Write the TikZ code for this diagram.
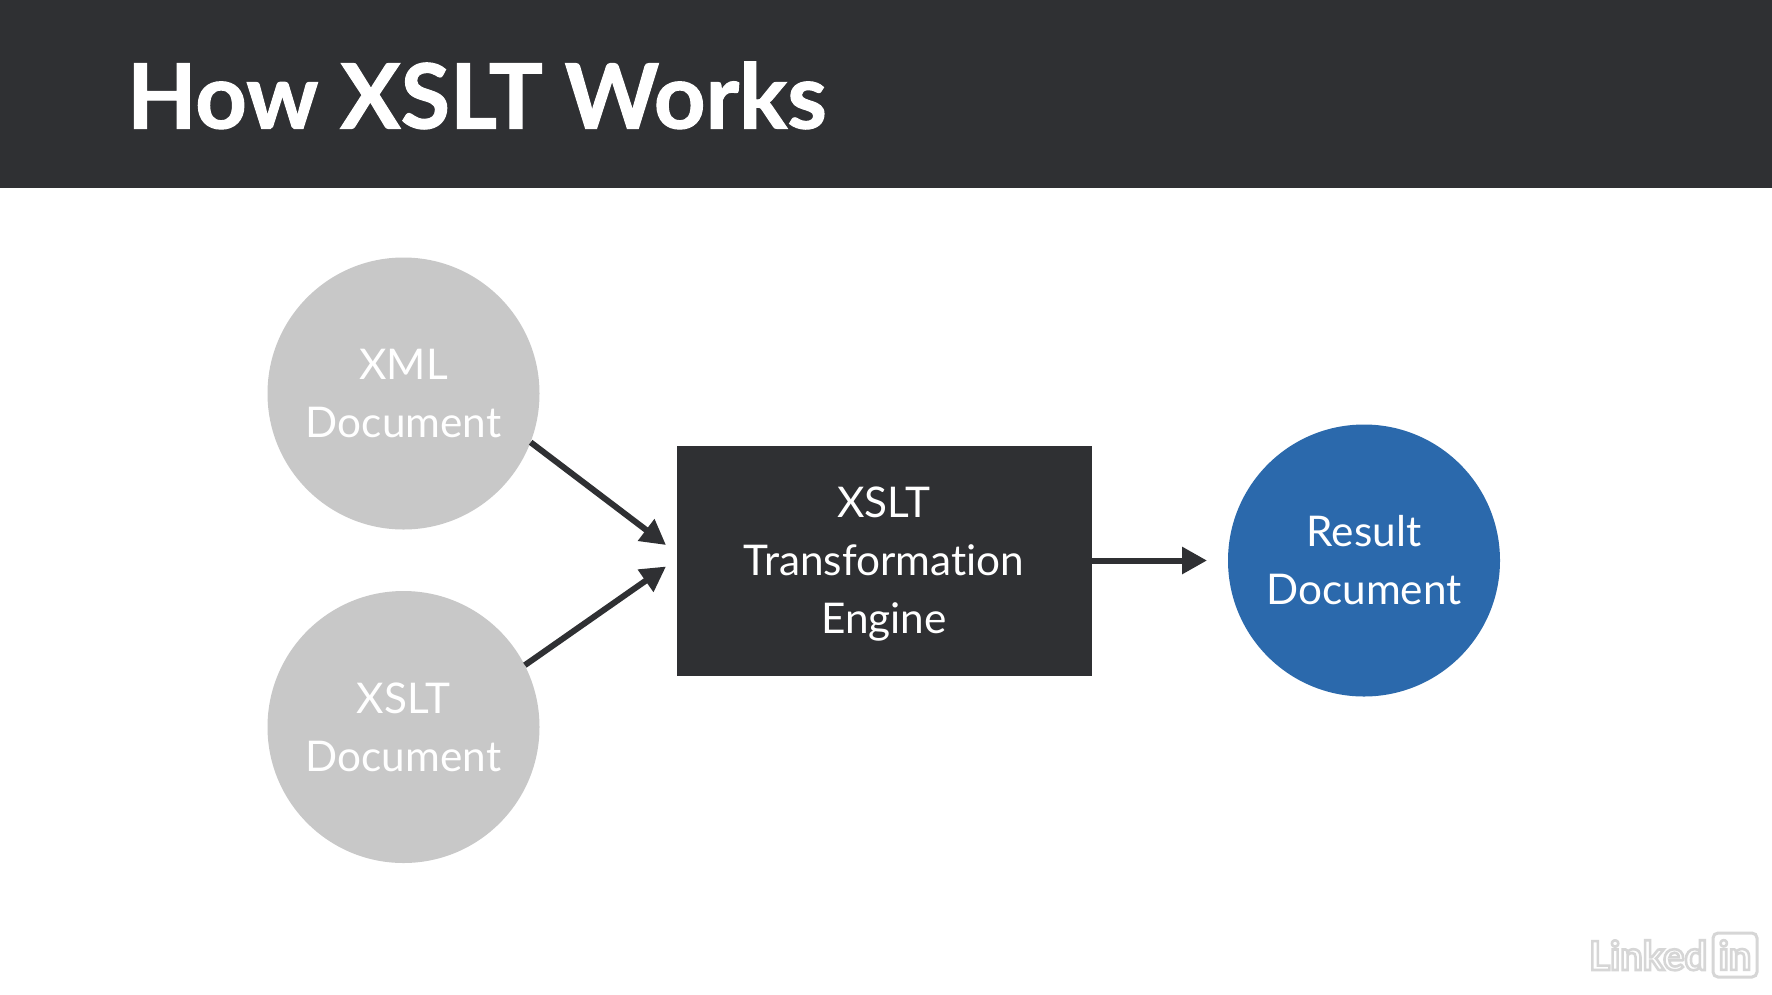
\documentclass[tikz,border=0pt]{standalone}
\usepackage{fontspec}
\setmainfont{Lato}[Ligatures=NoCommon]
\definecolor{dark}{HTML}{2F3033}
\definecolor{circ}{HTML}{C8C8C8}
\definecolor{res}{HTML}{2B69AC}
\definecolor{wm}{HTML}{D6D6D6}
\usetikzlibrary{arrows.meta}
\newcommand{\outlined}[1]{\special{pdf:code q 2 Tr 2.6 w 0.84 0.84 0.84 RG 1 1 1 rg}#1\special{pdf:code Q}}
\tikzset{
  x=1pt,y=-1pt,
  doc/.style={circle,minimum size=272pt,inner sep=0pt,fill=circ,text=white,align=center,font=\fontsize{42.3}{58}\selectfont},
  engine/.style={rectangle,minimum width=415pt,minimum height=230pt,inner sep=0pt,fill=dark,text=white,align=center,font=\fontsize{42.3}{58}\selectfont},
  conn/.style={draw=dark,line width=6pt,-{Triangle[length=25pt,width=26pt]}},
  mark text/.style={inner sep=0pt,font=\fontsize{40}{40}\bfseries\selectfont}
}
\begin{document}
\begin{tikzpicture}
\useasboundingbox (0,0) rectangle (1772,994);
\fill[white] (0,0) rectangle (1772,994);
\fill[dark] (0,0) rectangle (1772,188);
\node[anchor=base west,inner sep=0pt,text=white,font=\fontsize{90}{90}\bfseries\addfontfeature{FakeBold=1.2}\selectfont] (title) at (127,128.5) {How XSLT Works};
\node[doc] (xml) at (403.5,393.5) {XML\\Document};
\node[doc] (xslt) at (403.5,727) {XSLT\\Document};
\node[engine] (eng) at (884,560.5) {XSLT\\Transformation\\\raisebox{0pt}[\height][0pt]{Engine}};
\node[doc,fill=res] (result) at (1364,560.5) {Result\\Document};
\coordinate (a) at (666,545);
\coordinate (b) at (666,566.5);
\coordinate (c) at (1207,560.5);
\draw[conn] (xml.-21.5) -- (a);
\draw[conn] (xslt.27) -- (b);
\draw[conn] (eng.east) -- (c);
\node[mark text,anchor=base west] (lk) at (1589,970) {\outlined{Linked}};
\node[draw=wm,line width=3pt,rounded corners=5pt,minimum width=44pt,minimum height=44pt,inner sep=0pt,mark text] (in) at (1735,955) {\outlined{in}};
\end{tikzpicture}
\end{document}
